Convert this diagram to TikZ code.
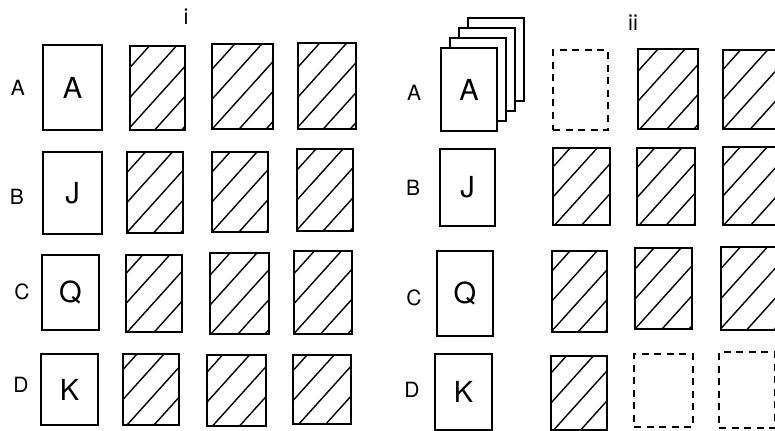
\documentclass[tikz,border=0pt]{standalone}
\usepackage{fontspec}
\setmainfont{TeX Gyre Heros}

\tikzset{
  csize/.style 2 args={minimum width=#1*0.5pt, minimum height=#2*0.5pt},
  card/.style={draw, line width=1.1pt, fill=white, inner sep=0pt, outer sep=0pt,
    font=\fontsize{14.5}{14.5}\selectfont},
  hatchcard/.style={draw, line width=1.1pt, inner sep=0pt, outer sep=0pt,
    path picture={
      \foreach \k in {-4,...,4}
        \draw[line width=0.7pt]
          ([xshift=\k*13.5pt+4pt]path picture bounding box.center)
          ++(-40pt,-44.4pt) -- ++(80pt,88.8pt);
    }},
  emptycard/.style={draw, line width=0.9pt, dash pattern=on 3.5pt off 2.8pt,
    inner sep=0pt, outer sep=0pt},
  rowlabel/.style={font=\fontsize{10.5}{10.5}\selectfont, inner sep=0pt},
  title/.style={font=\fontsize{11}{11}\selectfont, inner sep=0pt},
}

\begin{document}
\begin{tikzpicture}[x=0.5pt, y=-0.5pt]
  \useasboundingbox (0,0) rectangle (775,431);
  \clip (0,0) rectangle (775,431);

  % panel i
  \node[title] (ti) at (186,17) {i};
  \node[rowlabel] (iLA) at (18,88) {A};
  \node[rowlabel] (iLB) at (17,197) {B};
  \node[rowlabel] (iLC) at (22,292) {C};
  \node[rowlabel] (iLD) at (21,385) {D};

  \node[card, csize={59}{85}] (iA0) at (72.5,87.5) {A};
  \node[card, csize={59}{82}] (iB0) at (72.5,193) {J};
  \node[card, csize={57}{75}] (iC0) at (70.5,292.5) {Q};
  \node[card, csize={57}{71}] (iD0) at (69.5,389.5) {K};

  \foreach \n/\x/\y/\w/\h in {iA1/157.5/88/55/84, iA2/242.5/86.5/61/85, iA3/327/86/58/86,
      iB1/155/192.5/56/81, iB2/240/192/56/80, iB3/325/190/56/82,
      iC1/154/293.5/56/77, iC2/239.5/293.5/59/81, iC3/323/292.5/58/83,
      iD1/151/389.5/56/71, iD2/236.5/390.5/59/71, iD3/322/389.5/58/69}
    \node[hatchcard, csize={\w}{\h}] (\n) at (\x,\y) {};

  % panel ii
  \node[title] (tii) at (633,23) {ii};
  \node[rowlabel] (iiLA) at (414,93) {A};
  \node[rowlabel] (iiLB) at (413,188) {B};
  \node[rowlabel] (iiLC) at (414,298) {C};
  \node[rowlabel] (iiLD) at (412,390) {D};

  % pile behind the ace
  \node[card, csize={56}{83}] (pile3) at (496,59.5) {};
  \node[card, csize={56}{83}] (pile2) at (487,69.5) {};
  \node[card, csize={56}{83}] (pile1) at (478,79.5) {};
  \node[card, csize={56}{83}] (iiA0) at (469,89.5) {A};
  \node[card, csize={55}{77}] (iiB0) at (467.5,187.5) {J};
  \node[card, csize={56}{85}] (iiC0) at (465,293.5) {Q};
  \node[card, csize={57}{76}] (iiD0) at (463.5,392) {K};

  \foreach \n/\x/\y/\w/\h in {iiA2/668/89/60/80, iiA3/751/89.5/56/79,
      iiB1/581.5/186.5/57/77, iiB2/666/186.5/58/77, iiB3/751/186/56/78,
      iiC1/579.5/291.5/55/81, iiC2/663.5/288.5/57/81, iiC3/749/288.5/56/83,
      iiD1/579/393/56/74}
    \node[hatchcard, csize={\w}{\h}] (\n) at (\x,\y) {};

  \node[emptycard, csize={55}{80}] (iiA1) at (580.5,90) {};
  \node[emptycard, csize={59}{73}] (iiD2) at (663.5,390.5) {};
  \node[emptycard, csize={56}{76}] (iiD3) at (747,390) {};
\end{tikzpicture}
\end{document}
